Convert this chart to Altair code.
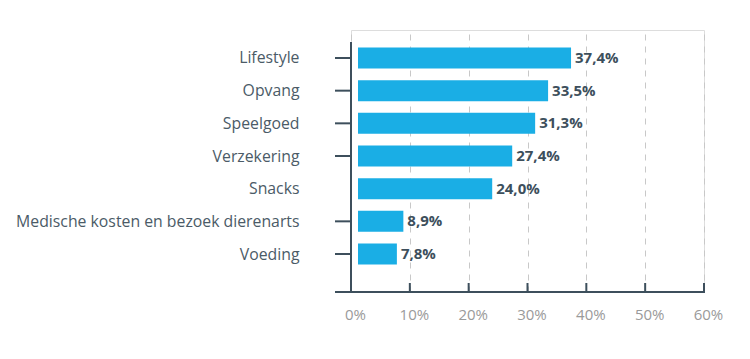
import altair as alt
import pandas as pd

categories = ["Lifestyle", "Opvang", "Speelgoed", "Verzekering", "Snacks",
              "Medische kosten en bezoek dierenarts", "Voeding"]
values = [37.4, 33.5, 31.3, 27.4, 24.0, 8.9, 7.8]
labels = ["37,4%", "33,5%", "31,3%", "27,4%", "24,0%", "8,9%", "7,8%"]
has_tick = [True, True, True, True, False, True, True]
x_ticks = [0, 10, 20, 30, 40, 50, 60]

df = pd.DataFrame({
    "cat": categories,
    "rank": list(range(len(categories))),
    "value": values,
    "label": labels,
    "tick": has_tick,
})
ticks_df = pd.DataFrame({"t": x_ticks[1:]})

FONT = "Open Sans"
DARK = "#3d4f5c"
BAR = "#1aaee5"
W, H = 353, 262

names_js = "[" + ",".join("'" + c + "'" for c in categories) + "]"

yscale = alt.Scale(domain=[-0.857, 7.163], reverse=True, nice=False, zero=False, padding=0)
xscale = alt.Scale(domain=[0, 60], nice=False, padding=0)

bars = alt.Chart(df).mark_bar(orient="horizontal", height=21, color=BAR, x2Offset=7).encode(
    y=alt.Y("rank:Q", scale=yscale, title=None,
            axis=alt.Axis(values=list(range(len(categories))), labelExpr=names_js + "[datum.value]",
                          domain=False, ticks=False, grid=False, labelPadding=52, labelLimit=0,
                          labelFont=FONT, labelFontSize=15.8, labelColor="#4b5b67")),
    x=alt.X("value:Q", scale=xscale, title=None,
            axis=alt.Axis(values=x_ticks, labelExpr="datum.value + '%'", domain=False, ticks=False,
                          grid=True, gridDash=[6, 6], gridColor="#c8c8c8", gridWidth=1,
                          labelFlush=False, labelOffset=4, labelBound=False,
                          labelPadding=15, labelFont=FONT, labelFontSize=15, labelColor="#9a9a9a")),
    x2=alt.datum(0),
)

text = alt.Chart(df).mark_text(align="left", baseline="middle", dx=4, font=FONT, fontSize=15,
                               fontWeight="bold", color=DARK).encode(
    y=alt.Y("rank:Q", scale=yscale),
    x=alt.X("value:Q", scale=xscale),
    text="label:N",
)

ytick_rules = alt.Chart(df).transform_filter("datum.tick").mark_rule(color=DARK, strokeWidth=2).encode(
    y=alt.Y("rank:Q", scale=yscale),
    x=alt.value(-16),
    x2=alt.value(0),
)

y_domain = alt.Chart(df).mark_rule(color=DARK, strokeWidth=2).encode(
    x=alt.value(0), y=alt.value(12), y2=alt.value(H),
)

x_domain = alt.Chart(df).mark_rule(color=DARK, strokeWidth=2).encode(
    y=alt.value(H), x=alt.value(-16), x2=alt.value(W + 1),
)

xtick_rules = alt.Chart(ticks_df).mark_rule(color=DARK, strokeWidth=2).encode(
    x=alt.X("t:Q", scale=xscale),
    y=alt.value(H - 9),
    y2=alt.value(H),
)

chart = alt.layer(bars, text, ytick_rules, y_domain, x_domain, xtick_rules).properties(
    width=W, height=H,
    autosize=alt.AutoSizeParams(type="none"),
    padding={"left": 343, "top": 22, "right": 30, "bottom": 50},
).configure_view(stroke=None).configure(background="white")

chart.save("out.html", embed_options={"renderer": "svg", "actions": False})
